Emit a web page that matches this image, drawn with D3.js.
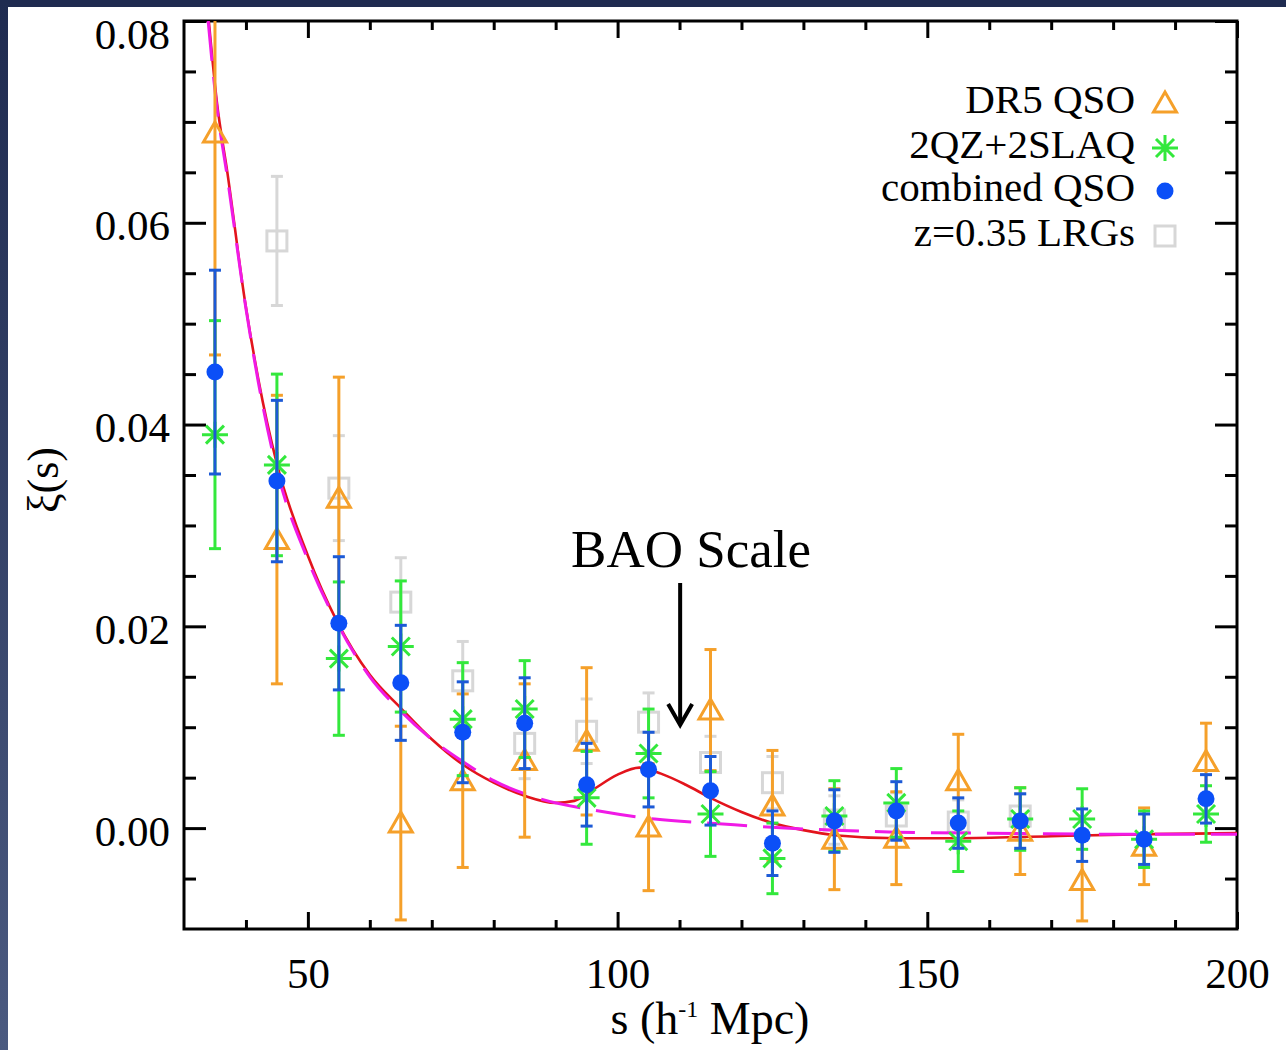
<!DOCTYPE html>
<html>
<head>
<meta charset="utf-8">
<script src="https://cdn.jsdelivr.net/npm/d3@7"></script>
<style>
  html, body { margin: 0; padding: 0; background: #ffffff; }
  svg { display: block; }
  text { font-family: "Liberation Serif", "Times New Roman", serif; fill: #000; }
</style>
</head>
<body>
<svg id="chart" width="1286" height="1050"></svg>
<script>
// ---------------- data ----------------
const sBins = [35, 45, 55, 65, 75, 85, 95, 105, 115, 125, 135, 145, 155, 165, 175, 185, 195];

const dr5Xi  = [0.0689, 0.0286, 0.0327, 0.0005, 0.0047, 0.0067, 0.0086, 0.0001, 0.0117, 0.0022, -0.0011, -0.0010, 0.0047, -0.0003, -0.0052, -0.0018, 0.0066];
const dr5Err = [0.0220, 0.0143, 0.0120, 0.0096, 0.0086, 0.0076, 0.0073, 0.0063, 0.0060, 0.0055, 0.0050, 0.0046, 0.0046, 0.0043, 0.0040, 0.0038, 0.0038];

const qzXi   = [0.0390, 0.0360, 0.0168, 0.0180, 0.0108, 0.0118, 0.0030, 0.0074, 0.0014, -0.0030, 0.0012, 0.0025, -0.0013, 0.0009, 0.0009, -0.0011, 0.0014];
const qzErr  = [0.0113, 0.0090, 0.0076, 0.0065, 0.0056, 0.0048, 0.0046, 0.0044, 0.0042, 0.0035, 0.0035, 0.0034, 0.0030, 0.0031, 0.0030, 0.0028, 0.0028];

const combXi  = [0.0452, 0.0344, 0.0203, 0.0144, 0.0095, 0.0104, 0.0043, 0.0058, 0.0037, -0.0015, 0.0007, 0.0017, 0.0005, 0.0007, -0.0007, -0.0011, 0.0029];
const combErr = [0.0101, 0.0080, 0.0066, 0.0057, 0.0050, 0.0045, 0.0041, 0.0037, 0.0034, 0.0032, 0.0031, 0.0029, 0.0025, 0.0027, 0.0026, 0.0025, 0.0024];

const lrgS   = [45, 55, 65, 75, 85, 95, 105, 115, 125, 135, 145, 155, 165];
const lrgXi  = [0.0582, 0.0337, 0.0224, 0.0146, 0.0084, 0.0096, 0.0105, 0.0065, 0.0045, 0.0008, 0.0012, 0.0006, 0.0012];
const lrgErr = [0.0064, 0.0052, 0.0044, 0.0039, 0.0035, 0.0032, 0.0029, 0.0026, 0.0026, 0.0024, 0.0023, 0.0022, 0.0022];

// model with BAO bump (red, solid)
const baoS  = [34.0, 35.3, 37, 39.85, 42, 45, 50, 54.7, 60, 65, 70, 75, 80, 85, 90, 93, 96, 100, 103.5, 107, 111, 115, 120, 125, 130, 135, 145, 155, 170, 186, 200];
const baoXi = [0.080, 0.072, 0.065, 0.0522, 0.0445, 0.0361, 0.0270, 0.0205, 0.0152, 0.0119, 0.0088, 0.0063, 0.0045, 0.0032, 0.0025, 0.0027, 0.0038, 0.0053, 0.0060, 0.0054, 0.0043, 0.0030, 0.0016, 0.0005, -0.0002, -0.0007, -0.0010, -0.0010, -0.0008, -0.0006, -0.0005];

// no-wiggle model (magenta, dashed)
const nwS  = [33.9, 35.2, 37, 40, 42, 45, 50, 55, 60, 65, 70, 75, 80, 87, 97, 106, 117, 127, 135, 145, 160, 180, 200];
const nwXi = [0.080, 0.072, 0.0645, 0.0515, 0.0442, 0.0355, 0.0266, 0.0200, 0.0150, 0.0116, 0.0088, 0.0066, 0.0047, 0.0030, 0.0017, 0.0009, 0.0004, 0.0000, -0.0002, -0.0004, -0.0005, -0.0006, -0.0006];

const xMajor = [50, 100, 150, 200];
const xMinor = [40, 60, 70, 80, 90, 110, 120, 130, 140, 160, 170, 180, 190];
const yMajor = [0.00, 0.02, 0.04, 0.06, 0.08];
const yMinor = [-0.005, 0.005, 0.01, 0.015, 0.025, 0.03, 0.035, 0.045, 0.05, 0.055, 0.065, 0.07, 0.075];

const legendLabels = ["DR5 QSO", "2QZ+2SLAQ", "combined QSO", "z=0.35 LRGs"];
const annotation = "BAO Scale";

// ---------------- styling ----------------
const C = {
  orange: "#f5a02a",
  green: "#33e83c",
  blue: "#0b4ff7",
  blueErr: "#1c5ad6",
  gray: "#d7d7d7",
  red: "#e3141c",
  magenta: "#f01ae6"
};

const svg = d3.select("#chart");
const W = 1286, H = 1050;
const pL = 184, pR = 1237, pT = 21, pB = 929;

// dark frame of the slide
const defs = svg.append("defs");
const grad = defs.append("linearGradient").attr("id", "leftBand")
  .attr("x1", 0).attr("y1", 0).attr("x2", 0).attr("y2", 1);
grad.append("stop").attr("offset", "0%").attr("stop-color", "#1f2b50");
grad.append("stop").attr("offset", "100%").attr("stop-color", "#4b5a80");
svg.append("rect").attr("width", W).attr("height", H).attr("fill", "#ffffff");
svg.append("rect").attr("x", 0).attr("y", 0).attr("width", W).attr("height", 7).attr("fill", "#1f2b50");
svg.append("rect").attr("x", 0).attr("y", 0).attr("width", 8).attr("height", H).attr("fill", "url(#leftBand)");

defs.append("clipPath").attr("id", "plotClip")
  .append("rect").attr("x", pL).attr("y", pT).attr("width", pR - pL).attr("height", pB - pT);

const x = d3.scaleLinear().domain([30, 200]).range([pL, pR]);
const y = d3.scaleLinear().domain([-0.01, 0.08]).range([pB, pT]);

// ---------------- axes ----------------
function styleAxis(g) {
  g.attr("font-family", null);
  g.select(".domain").remove();
  g.selectAll(".tick line").attr("stroke", "#000").attr("stroke-width", 3);
  g.selectAll(".tick text").style("font-family", "'Liberation Serif', serif").attr("fill", "#000");
}
svg.append("g").attr("transform", `translate(0,${pB})`)
  .call(d3.axisBottom(x).tickValues(xMajor).tickSize(-17).tickPadding(28).tickFormat(d3.format("d")))
  .call(styleAxis)
  .call(g => g.selectAll(".tick text").style("font-size", "43px"));
svg.append("g").attr("transform", `translate(0,${pB})`)
  .call(d3.axisBottom(x).tickValues(xMinor).tickSize(-9).tickFormat(""))
  .call(styleAxis);
svg.append("g").attr("transform", `translate(0,${pT})`)
  .call(d3.axisTop(x).tickValues(xMajor).tickSize(-17).tickFormat(""))
  .call(styleAxis);
svg.append("g").attr("transform", `translate(0,${pT})`)
  .call(d3.axisTop(x).tickValues(xMinor).tickSize(-9).tickFormat(""))
  .call(styleAxis);

const yAxisL = svg.append("g").attr("transform", `translate(${pL},0)`)
  .call(d3.axisLeft(y).tickValues(yMajor).tickSize(-22).tickPadding(14).tickFormat(d3.format(".2f")))
  .call(styleAxis)
  .call(g => g.selectAll(".tick text").style("font-size", "43px").attr("dy", "0.4em"));
yAxisL.selectAll(".tick").filter(d => d === 0.08).select("text")
  .attr("transform", "translate(0,10)");
svg.append("g").attr("transform", `translate(${pL},0)`)
  .call(d3.axisLeft(y).tickValues(yMinor).tickSize(-12).tickFormat(""))
  .call(styleAxis);
svg.append("g").attr("transform", `translate(${pR},0)`)
  .call(d3.axisRight(y).tickValues(yMajor).tickSize(-22).tickFormat(""))
  .call(styleAxis);
svg.append("g").attr("transform", `translate(${pR},0)`)
  .call(d3.axisRight(y).tickValues(yMinor).tickSize(-12).tickFormat(""))
  .call(styleAxis);

// frame
svg.append("rect").attr("x", pL).attr("y", pT).attr("width", pR - pL).attr("height", pB - pT)
  .attr("fill", "none").attr("stroke", "#000").attr("stroke-width", 3);

// axis titles
const xt = svg.append("text").attr("x", 710).attr("y", 1034).attr("text-anchor", "middle")
  .style("font-size", "46px");
xt.append("tspan").text("s (h");
xt.append("tspan").attr("dy", -17).style("font-size", "24px").text("-1");
xt.append("tspan").attr("dy", 17).text(" Mpc)");

svg.append("text").attr("transform", "translate(58,480) rotate(-90)")
  .attr("text-anchor", "middle").style("font-size", "44px").text("ξ(s)");

// ---------------- marks ----------------
const plot = svg.append("g").attr("clip-path", "url(#plotClip)");

function errorBars(g, sArr, vArr, eArr, color) {
  const cap = 6;
  const grp = g.append("g").attr("stroke", color).attr("stroke-width", 3).attr("fill", "none");
  sArr.forEach((s, i) => {
    const cx = x(s), y1 = y(vArr[i] + eArr[i]), y2 = y(vArr[i] - eArr[i]);
    grp.append("line").attr("x1", cx).attr("x2", cx).attr("y1", y1).attr("y2", y2);
    grp.append("line").attr("x1", cx - cap).attr("x2", cx + cap).attr("y1", y1).attr("y2", y1);
    grp.append("line").attr("x1", cx - cap).attr("x2", cx + cap).attr("y1", y2).attr("y2", y2);
  });
}

const triPath = "M0,-11 L11.5,9 L-11.5,9 Z";
const starPath = "M-13,0 L13,0 M0,-13 L0,13 M-9,-9 L9,9 M-9,9 L9,-9";

function drawTri(g, cx, cy) {
  g.append("path").attr("d", triPath).attr("transform", `translate(${cx},${cy})`)
    .attr("fill", "none").attr("stroke", C.orange).attr("stroke-width", 3).attr("stroke-linejoin", "miter");
}
function drawStar(g, cx, cy) {
  g.append("path").attr("d", starPath).attr("transform", `translate(${cx},${cy})`)
    .attr("fill", "none").attr("stroke", C.green).attr("stroke-width", 3);
}
function drawDot(g, cx, cy) {
  g.append("circle").attr("cx", cx).attr("cy", cy).attr("r", 8.5).attr("fill", C.blue);
}
function drawSq(g, cx, cy) {
  g.append("rect").attr("x", cx - 10).attr("y", cy - 10).attr("width", 20).attr("height", 20)
    .attr("fill", "none").attr("stroke", C.gray).attr("stroke-width", 3);
}

// LRGs (behind)
errorBars(plot, lrgS, lrgXi, lrgErr, C.gray);
lrgS.forEach((s, i) => drawSq(plot, x(s), y(lrgXi[i])));

// model curves
const line = d3.line().x(d => x(d[0])).y(d => y(d[1])).curve(d3.curveMonotoneX);
plot.append("path").datum(baoS.map((s, i) => [s, baoXi[i]])).attr("d", line)
  .attr("fill", "none").attr("stroke", C.red).attr("stroke-width", 2.6);
plot.append("path").datum(nwS.map((s, i) => [s, nwXi[i]])).attr("d", line)
  .attr("fill", "none").attr("stroke", C.magenta).attr("stroke-width", 3)
  .attr("stroke-dasharray", "40,16");

// DR5 QSO
errorBars(plot, sBins, dr5Xi, dr5Err, C.orange);
sBins.forEach((s, i) => drawTri(plot, x(s), y(dr5Xi[i])));

// 2QZ+2SLAQ
errorBars(plot, sBins, qzXi, qzErr, C.green);
sBins.forEach((s, i) => drawStar(plot, x(s), y(qzXi[i])));

// combined
errorBars(plot, sBins, combXi, combErr, C.blueErr);
sBins.forEach((s, i) => drawDot(plot, x(s), y(combXi[i])));

// ---------------- legend ----------------
const legBase = [113, 158, 201, 246];
const legDraw = [drawTri, drawStar, drawDot, drawSq];
const leg = svg.append("g");
legendLabels.forEach((lab, i) => {
  leg.append("text").attr("x", 1135).attr("y", legBase[i]).attr("text-anchor", "end")
    .style("font-size", "41px").text(lab);
  legDraw[i](leg, 1165, legBase[i] - 10);
});

// ---------------- annotation ----------------
svg.append("text").attr("x", 691).attr("y", 567).attr("text-anchor", "middle")
  .style("font-size", "53px").text(annotation);
const ax = x(110.1);
svg.append("line").attr("x1", ax).attr("x2", ax).attr("y1", 583).attr("y2", 724)
  .attr("stroke", "#000").attr("stroke-width", 4);
svg.append("path").attr("d", `M${ax - 12},704 L${ax},725 L${ax + 12},704`)
  .attr("fill", "none").attr("stroke", "#000").attr("stroke-width", 4);
</script>
</body>
</html>
